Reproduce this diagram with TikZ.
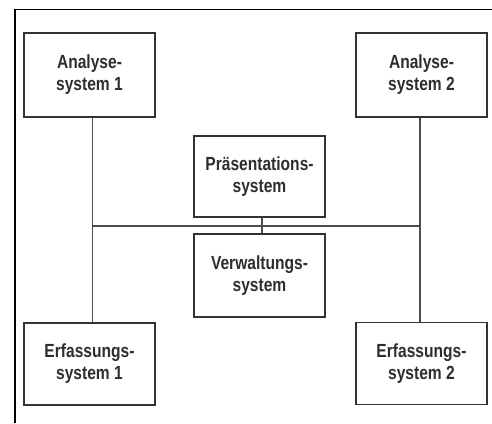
\documentclass[tikz,border=0pt]{standalone}
\usepackage{fontspec}
\setmainfont{Liberation Sans}[FakeStretch=0.82]
\begin{document}
\begin{tikzpicture}[x=1pt,y=-1pt,
  sysbox/.style={draw=black!80,line width=1.3pt,fill=white,minimum width=131pt,
    inner sep=0pt,align=center,text=black!82,font=\fontsize{19}{22}\selectfont\bfseries},
  link/.style={draw=black!70,line width=1.1pt},
  frameline/.style={draw=black,line width=1.8pt}]
\useasboundingbox (0,0) rectangle (492,423);
% open frame: top and left edges
\coordinate (fl) at (15,423);
\coordinate (fc) at (15,9.5);
\coordinate (fr) at (492,9.5);
\draw[frameline] (fl) -- (fc) -- (fr);
% systems
\node[sysbox,minimum height=84pt] (a1) at (89.5,75) {Analyse-\\system 1};
\node[sysbox,minimum height=84pt] (a2) at (421.5,75) {Analyse-\\system 2};
\node[sysbox,minimum height=81pt] (p) at (259.5,176.5) {Präsentations-\\system};
\node[sysbox,minimum height=83pt] (v) at (259.5,275.5) {Verwaltungs-\\system};
\node[sysbox,minimum height=82pt] (e1) at (89.5,364) {Erfassungs-\\system 1};
\node[sysbox,minimum height=82pt] (e2) at (421.5,363.5) {Erfassungs-\\system 2};
% bus
\coordinate (jl) at (92.5,226);
\coordinate (jr) at (420,226);
\draw[link] ([xshift=3pt]a1.south) -- ([xshift=3pt]e1.north);
\draw[link] ([xshift=-1.5pt]a2.south) -- ([xshift=-1.5pt]e2.north);
\draw[link] (jl) -- (jr);
\draw[link] ([xshift=2.5pt]p.south) -- ([xshift=2.5pt]v.north);
\end{tikzpicture}
\end{document}
